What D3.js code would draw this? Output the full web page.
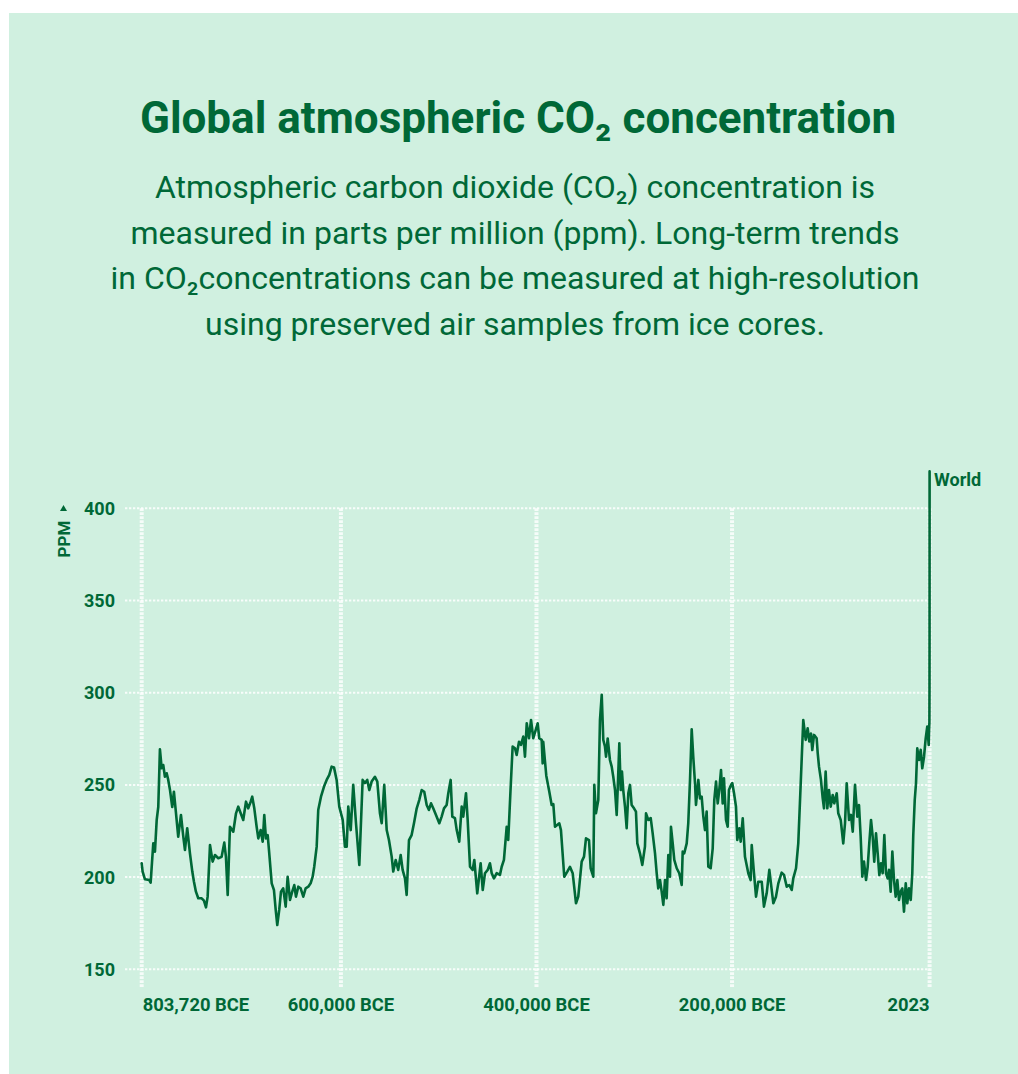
<!DOCTYPE html>
<html><head><meta charset="utf-8">
<script src="https://cdn.jsdelivr.net/npm/d3@7"></script>
<style>
body{margin:0;background:#ffffff;}
svg{display:block;font-family:Roboto,"Noto Sans",sans-serif;}
</style>
</head><body>
<svg id="chart" width="1018" height="1074"></svg>
<script>
// Age of each ice-core sample, in thousands of years before 2023
const kyrBefore2023 = [
805.743, 804.8, 802.4, 798.0, 796.6, 793.9, 792.2, 790.4, 788.8, 787.1,
785.3, 783.7, 782.0, 780.2, 778.6, 776.8, 774.5, 772.8, 771.0, 768.4,
765.6, 763.2, 761.5, 759.2, 756.4, 754.0, 752.3, 750.3, 747.9, 744.4,
742.1, 740.0, 738.3, 735.9, 733.2, 730.8, 727.4, 724.0, 721.3, 719.6,
717.8, 715.5, 712.1, 709.3, 707.0, 704.5, 701.9, 699.1, 696.8, 694.3,
692.7, 690.6, 688.2, 686.5, 684.1, 682.0, 680.4, 678.7, 676.9, 675.3,
672.8, 670.5, 668.7, 667.1, 665.1, 663.3, 661.0, 658.5, 656.5, 654.1,
651.8, 649.7, 648.0, 645.6, 643.2, 640.5, 638.1, 635.4, 633.0, 630.9,
629.3, 626.8, 625.2, 622.4, 619.3, 616.6, 613.9, 611.5, 609.1, 606.4,
603.7, 600.2, 597.9, 596.1, 594.5, 592.0, 589.4, 586.6, 583.2, 579.8,
577.4, 575.1, 573.0, 570.6, 567.2, 564.8, 562.1, 560.3, 557.7, 555.2,
552.9, 550.1, 548.5, 546.0, 543.4, 540.9, 538.9, 536.5, 534.8, 532.4,
529.7, 527.3, 524.5, 521.9, 519.4, 516.8, 514.3, 512.0, 509.9, 507.6,
504.8, 501.4, 499.0, 496.6, 493.9, 492.2, 489.8, 488.1, 485.4, 483.6,
481.0, 478.5, 476.9, 474.1, 472.4, 470.0, 467.3, 465.6, 462.6, 459.1,
457.0, 454.7, 451.9, 449.6, 447.8, 445.5, 442.7, 439.4, 437.6, 435.3,
432.5, 430.9, 428.4, 426.4, 424.0, 422.3, 419.9, 417.9, 415.5, 413.8,
412.0, 409.7, 407.6, 405.3, 402.8, 400.8, 399.2, 396.7, 395.7, 395.1,
392.0, 388.9, 386.5, 384.8, 383.1, 378.7, 377.0, 373.6, 370.5, 367.8,
365.0, 361.6, 359.3, 355.8, 353.4, 351.4, 348.3, 346.6, 343.9, 342.9,
341.2, 338.8, 337.1, 335.3, 333.7, 332.0, 330.9, 329.2, 326.9, 325.1,
323.5, 321.7, 320.0, 319.0, 317.3, 315.9, 314.6, 313.3, 311.5, 309.8,
308.1, 306.4, 304.7, 302.3, 300.3, 298.9, 296.2, 293.8, 291.1, 290.0,
287.7, 285.2, 283.2, 280.8, 279.1, 277.5, 275.7, 274.0, 272.3, 270.6,
268.9, 267.2, 265.5, 264.5, 262.7, 261.1, 258.6, 256.0, 253.5, 252.5,
250.9, 248.4, 246.8, 245.0, 243.3, 241.7, 239.9, 238.9, 236.5, 234.8,
233.1, 231.4, 229.7, 228.0, 226.3, 223.9, 221.8, 220.2, 218.4, 216.7,
215.1, 213.3, 211.6, 210.3, 208.2, 206.5, 205.2, 203.1, 201.8, 200.0,
198.0, 196.7, 194.6, 193.2, 191.1, 188.8, 185.4, 183.0, 181.9, 179.6,
177.5, 175.2, 171.7, 169.4, 166.6, 163.9, 159.8, 157.1, 154.7, 151.3,
148.9, 146.1, 143.5, 141.0, 139.4, 136.6, 134.3, 131.8, 129.2, 126.7,
124.7, 123.0, 121.3, 120.0, 118.2, 115.5, 114.4, 113.1, 111.1, 109.3,
108.0, 106.3, 104.6, 102.9, 101.1, 99.1, 97.5, 95.0, 93.4, 90.9,
88.3, 86.5, 84.8, 82.4, 80.4, 78.6, 76.3, 73.9, 72.2, 70.5,
68.8, 67.1, 65.0, 63.3, 61.7, 59.9, 58.2, 56.6, 54.8, 53.1,
51.4, 49.7, 48.0, 46.3, 44.6, 42.9, 41.5, 39.8, 38.1, 36.4,
34.7, 33.0, 31.3, 29.6, 27.9, 26.2, 24.4, 22.8, 21.1, 19.3,
17.7, 16.7, 15.2, 13.9, 12.6, 10.8, 9.1, 7.5, 5.7, 4.0,
2.4, 0.9, 0.5, 0.2, 0.1, 0.05, 0.02, 0
];
// CO2 concentration (ppm) of each sample
const co2ppm = [
207.5, 203, 198.8, 198.4, 197, 218.3, 213.8, 231, 238, 269.3,
259, 260.8, 254.4, 256.3, 252.7, 247.2, 238, 246.3, 236.4, 221.9,
233.7, 221.9, 214.7, 226.5, 212.9, 203, 197.5, 192.1, 188.5, 188.5,
187.2, 183.6, 189.4, 217.4, 208.4, 212, 210.2, 211, 218.7, 211,
190.3, 227.3, 224.6, 234.6, 238.2, 234.6, 231, 240.9, 237.3, 240.9,
243.6, 237.3, 227.3, 221, 225.5, 219.2, 233.7, 221, 222.8, 212.9,
196.6, 193, 182.2, 174, 182.2, 192.1, 193.9, 184, 200.2, 187.6,
192.1, 195.7, 189.4, 194.8, 193.9, 189.4, 193.9, 194.8, 196.6, 200.2,
205.6, 216.5, 236.4, 243.6, 249.1, 252.7, 255.4, 259.9, 259.5, 252.7,
238.2, 231, 216.5, 216.5, 238.2, 225.5, 250, 229.2, 206.6, 252.7,
251, 252.7, 247.2, 251.8, 254.4, 251.8, 234.6, 229.2, 250, 225.5,
220.1, 211.1, 203, 209.3, 203.9, 212, 203.9, 199.3, 190.3, 220.1,
222.8, 229.2, 237.3, 241.8, 247.2, 246.3, 239.1, 236.4, 240, 237.3,
233.7, 229.2, 232.8, 237.3, 239.1, 245.5, 252.7, 232.8, 232, 225.5,
219.2, 238.2, 232.8, 245.5, 231, 205.6, 203.9, 209.3, 191.2, 207.5,
193, 202.1, 203.9, 207.5, 202.1, 199.3, 202.1, 201.2, 205.6, 209.3,
227.3, 220.1, 249.1, 270.8, 269.9, 266.2, 273.4, 271.7, 276.2, 265.3,
283.4, 275.3, 285.2, 275.3, 279.8, 283.4, 275.3, 274.4, 261.7, 273.4,
255, 246.3, 239.1, 239.6, 227.3, 229.2, 225.5, 200.2, 203, 205.6,
202.1, 185.8, 189.4, 208.4, 211.1, 221, 220.1, 204.8, 200.2, 250,
234.6, 241.8, 285.2, 298.8, 274.4, 270.8, 265.3, 275.2, 263.5, 259.9,
254.4, 247.2, 233.7, 247.2, 272.5, 247.2, 257.2, 247.2, 238.2, 226.5,
245.5, 250, 239.1, 237.3, 235.5, 218.3, 212.9, 206.6, 216.5, 234.6,
231, 232, 223.7, 212.9, 202.1, 193.9, 198.4, 192.1, 184.9, 198.4,
188.5, 212, 200.2, 227.3, 218.3, 209.3, 204.8, 202.1, 195.7, 213.8,
212.9, 218.3, 229.2, 252.7, 280.2, 265.3, 250.9, 239.1, 252.7, 242.7,
243.6, 232.8, 225.5, 235.5, 205.6, 204.8, 215.6, 241.8, 251.8, 240,
247.2, 258.1, 240, 253.6, 231, 227.3, 247.2, 250, 251, 245.5,
238.2, 220.1, 226.5, 219.2, 231.9, 211, 202.1, 198.4, 217.4, 202.1,
189.4, 197.5, 197.5, 184, 191.2, 203.9, 185.8, 189.4, 196.6, 202.4,
201.2, 194.8, 195.7, 193, 199.3, 204.8, 218.3, 250.9, 285.2, 274.4,
280.7, 273.5, 277.9, 268.9, 277.1, 275.3, 267.1, 259.9, 252.7, 242.7,
237.3, 257.2, 237.3, 247.2, 238.2, 244.5, 240, 245.5, 234.6, 231,
218.3, 229.2, 250.9, 231, 233.7, 224.6, 250, 232.8, 239.1, 221.9,
200.2, 208.4, 198.4, 205.6, 218.3, 231, 221.9, 208.4, 223.7, 212.9,
201.1, 207.5, 202.1, 222.8, 202.1, 199.3, 203.9, 192.1, 213.8, 198.4,
189.4, 198.4, 187.6, 192.1, 193.9, 181.2, 196.6, 185.8, 193.9, 187.6,
202.1, 222.8, 241.8, 250.9, 269.8, 263.5, 269, 259, 265.3, 275.2,
281.6, 271.7, 280, 284, 303, 330, 373, 420
];
const yTickValues = [150, 200, 250, 300, 350, 400];
const xTickYears = [-803720, -600000, -400000, -200000, 2023];
const xTickLabels = ["803,720 BCE", "600,000 BCE", "400,000 BCE", "200,000 BCE", "2023"];
const seriesName = "World";
const yAxisTitle = "PPM";
const titleText = "Global atmospheric CO\u2082 concentration";
const subtitleLines = [
  "Atmospheric carbon dioxide (CO\u2082) concentration is",
  "measured in parts per million (ppm). Long-term trends",
  "in CO\u2082concentrations can be measured at high-resolution",
  "using preserved air samples from ice cores."
];

const green = "#006837";
const svg = d3.select("#chart");

svg.append("rect").attr("x", 9).attr("y", 13).attr("width", 1009).attr("height", 1061)
  .attr("fill", "#d0f0e0");

// Title and subtitle
svg.append("text").attr("x", 518).attr("y", 133).attr("text-anchor", "middle")
  .attr("font-size", 44).attr("font-weight", 700).attr("fill", green).text(titleText);
svg.append("g").selectAll("text").data(subtitleLines).join("text")
  .attr("x", 515).attr("y", (d, i) => 197.7 + i * 45.8).attr("text-anchor", "middle")
  .attr("font-size", 32).attr("font-weight", 400).attr("fill", green).text(d => d);

const x = d3.scaleLinear().domain([-803720, 2023]).range([141.7, 929.6]);
const y = d3.scaleLinear().domain([150, 400]).range([969.3, 508.3]);

// Horizontal grid
svg.append("g").selectAll("line").data(yTickValues).join("line")
  .attr("x1", 125).attr("x2", x(2023)).attr("y1", d => y(d)).attr("y2", d => y(d))
  .attr("stroke", "rgba(255,255,255,0.85)").attr("stroke-width", 2).attr("stroke-dasharray", "2.3,1.7");
// Vertical grid
svg.append("g").selectAll("line").data(xTickYears).join("line")
  .attr("x1", d => x(d)).attr("x2", d => x(d)).attr("y1", y(400)).attr("y2", 987)
  .attr("stroke", "rgba(255,255,255,0.8)").attr("stroke-width", 4).attr("stroke-dasharray", "2.7,1.3");

// Y tick labels
svg.append("g").selectAll("text").data(yTickValues).join("text")
  .attr("x", 115).attr("y", d => y(d) + 6.5).attr("text-anchor", "end")
  .attr("font-size", 18).attr("font-weight", 700).attr("fill", green).text(d => d);

// X tick labels
const anchors = ["start", "middle", "middle", "middle", "end"];
svg.append("g").selectAll("text").data(xTickYears).join("text")
  .attr("x", (d, i) => x(d) + (i === 0 ? 1 : 0)).attr("y", 1011)
  .attr("text-anchor", (d, i) => anchors[i])
  .attr("font-size", 18.4).attr("font-weight", 700).attr("fill", green)
  .text((d, i) => xTickLabels[i]);

// Y axis title with arrow
svg.append("text").attr("transform", "translate(70,539) rotate(-90)").attr("text-anchor", "middle")
  .attr("font-size", 17).attr("font-weight", 700).attr("fill", green).text(yAxisTitle);
svg.append("path").attr("d", "M60,511 L67,511 L63.5,505 Z").attr("fill", green);

// Line
const data = kyrBefore2023.map((a, i) => ({year: 2023 - a * 1000, ppm: co2ppm[i]}));
svg.append("path").datum(data)
  .attr("d", d3.line().x(d => x(d.year)).y(d => y(d.ppm)))
  .attr("fill", "none").attr("stroke", green).attr("stroke-width", 2.6)
  .attr("stroke-linejoin", "round").attr("stroke-linecap", "round");

// Series label
const last = data[data.length - 1];
svg.append("text").attr("x", x(last.year) + 4.5).attr("y", y(last.ppm) + 15)
  .attr("font-size", 18).attr("font-weight", 700).attr("fill", green).text(seriesName);
</script>
</body></html>
